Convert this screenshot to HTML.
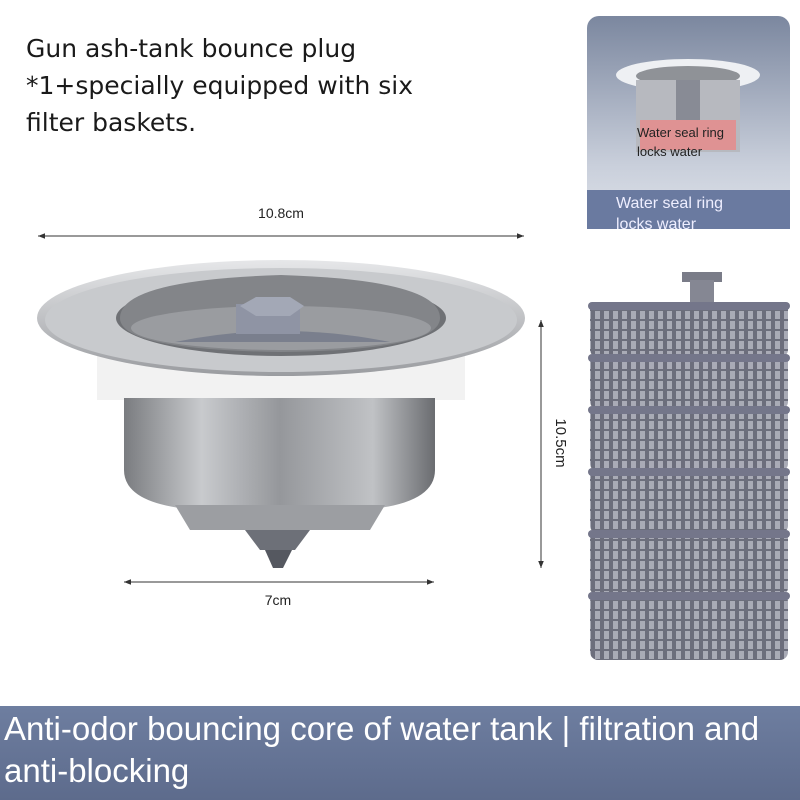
<!DOCTYPE html>
<html><head><meta charset="utf-8"><style>
body{margin:0;width:800px;height:800px;background:#fff;position:relative;overflow:hidden;font-family:"Liberation Sans",sans-serif}
.t{position:absolute;color:#222}
</style></head><body>
<div class="t" style="left:26px;top:30px;font-family:'DejaVu Sans',sans-serif;font-size:25px;line-height:37px;color:#1a1a1a">Gun ash-tank bounce plug<br>*1+specially equipped with six<br>filter baskets.</div>

<svg width="800" height="800" style="position:absolute;left:0;top:0">
<defs>
<linearGradient id="inset" x1="0" y1="0" x2="0" y2="1"><stop offset="0" stop-color="#7b879f"/><stop offset="0.7" stop-color="#c9cfdb"/><stop offset="1" stop-color="#dfe3ea"/></linearGradient>
<linearGradient id="steel" x1="0" y1="0" x2="1" y2="0"><stop offset="0" stop-color="#7a7c80"/><stop offset="0.25" stop-color="#c8cacd"/><stop offset="0.5" stop-color="#95979b"/><stop offset="0.8" stop-color="#c0c2c5"/><stop offset="1" stop-color="#6a6c70"/></linearGradient>
<linearGradient id="rim" x1="0" y1="0" x2="0" y2="1"><stop offset="0" stop-color="#e6e7e9"/><stop offset="1" stop-color="#9a9ca0"/></linearGradient>
<linearGradient id="bar" x1="0" y1="0" x2="0" y2="1"><stop offset="0" stop-color="#6e7ea0"/><stop offset="1" stop-color="#5d6b8c"/></linearGradient>
<pattern id="grid" width="9" height="10" patternUnits="userSpaceOnUse"><rect width="9" height="10" fill="#6c6e7c"/><rect x="1" y="1" width="5" height="8" fill="#a9abb6"/></pattern>
<marker id="ar" viewBox="0 0 10 10" refX="10" refY="5" markerWidth="7" markerHeight="7" orient="auto-start-reverse"><path d="M0 1 L10 5 L0 9Z" fill="#333"/></marker>
</defs>

<rect x="587" y="16" width="203" height="213" rx="12" fill="url(#inset)"/>
<ellipse cx="688" cy="75" rx="72" ry="16" fill="#eef0f3"/>
<ellipse cx="688" cy="76" rx="52" ry="10" fill="#8f9297"/>
<rect x="636" y="80" width="104" height="72" fill="#b7b9bf"/>
<rect x="640" y="120" width="96" height="30" fill="#e88888" opacity="0.8"/>
<rect x="676" y="80" width="24" height="40" fill="#888b95"/>
<rect x="587" y="190" width="203" height="39" fill="#6a7aa0"/>
<text x="637" y="137" font-size="13" fill="#222">Water seal ring</text>
<text x="637" y="156" font-size="13" fill="#222">locks water</text>
<text x="616" y="208" font-size="16" fill="#eef">Water seal ring</text>
<text x="616" y="229" font-size="16" fill="#eef">locks water</text>

<line x1="38" y1="236" x2="524" y2="236" stroke="#333" marker-start="url(#ar)" marker-end="url(#ar)"/>
<text x="281" y="218" font-size="14" text-anchor="middle" fill="#222">10.8cm</text>
<line x1="124" y1="582" x2="434" y2="582" stroke="#333" marker-start="url(#ar)" marker-end="url(#ar)"/>
<text x="278" y="605" font-size="14" text-anchor="middle" fill="#222">7cm</text>
<line x1="541" y1="320" x2="541" y2="568" stroke="#333" marker-start="url(#ar)" marker-end="url(#ar)"/>
<text x="556" y="443" font-size="15" fill="#222" transform="rotate(90 556 443)" text-anchor="middle">10.5cm</text>

<rect x="97" y="350" width="368" height="50" fill="#f2f2f2"/>
<path d="M124 398 L124 470 Q124 505 200 510 L360 510 Q435 505 435 470 L435 398 Z" fill="url(#steel)"/>
<path d="M175 505 L385 505 L370 530 L190 530 Z" fill="#9c9ea2"/>
<path d="M245 530 L310 530 L295 550 L260 550 Z" fill="#6d7078"/>
<path d="M265 550 L292 550 L283 568 L273 568 Z" fill="#555860"/>
<ellipse cx="281" cy="318" rx="244" ry="58" fill="url(#rim)"/>
<ellipse cx="281" cy="320" rx="236" ry="52" fill="#c8cacd"/>
<ellipse cx="281" cy="318" rx="165" ry="38" fill="#6f7175"/>
<path d="M120 318 Q120 280 281 275 Q440 280 440 318 Q440 350 281 352 Q120 350 120 318Z" fill="#838589"/>
<ellipse cx="281" cy="328" rx="150" ry="22" fill="#9a9ca0"/>
<path d="M175 342 Q281 320 390 342" fill="#6c7385" opacity="0.7"/>
<rect x="236" y="304" width="64" height="30" fill="#8f94a4"/>
<polygon points="240,306 256,297 290,297 304,306 290,316 256,316" fill="#a3a8b6"/>

<rect x="682" y="272" width="40" height="10" fill="#7a7c88"/>
<rect x="690" y="280" width="24" height="22" fill="#858793"/>
<g>
<rect x="590" y="304" width="198" height="52" rx="6" fill="url(#grid)"/>
<rect x="588" y="302" width="202" height="8" rx="4" fill="#74768a"/>
<rect x="590" y="356" width="198" height="52" rx="6" fill="url(#grid)"/>
<rect x="588" y="354" width="202" height="8" rx="4" fill="#74768a"/>
<rect x="590" y="408" width="198" height="62" rx="6" fill="url(#grid)"/>
<rect x="588" y="406" width="202" height="8" rx="4" fill="#74768a"/>
<rect x="590" y="470" width="198" height="62" rx="6" fill="url(#grid)"/>
<rect x="588" y="468" width="202" height="8" rx="4" fill="#74768a"/>
<rect x="590" y="532" width="198" height="62" rx="6" fill="url(#grid)"/>
<rect x="588" y="530" width="202" height="8" rx="4" fill="#74768a"/>
<rect x="590" y="594" width="198" height="66" rx="8" fill="url(#grid)"/>
<rect x="588" y="592" width="202" height="8" rx="4" fill="#74768a"/>
</g>

<rect x="0" y="706" width="800" height="94" fill="url(#bar)"/>
</svg>
<div class="t" style="left:4px;top:708px;font-size:33px;line-height:42px;color:#fff">Anti-odor bouncing core of water tank | filtration and<br>anti-blocking</div>
</body></html>
